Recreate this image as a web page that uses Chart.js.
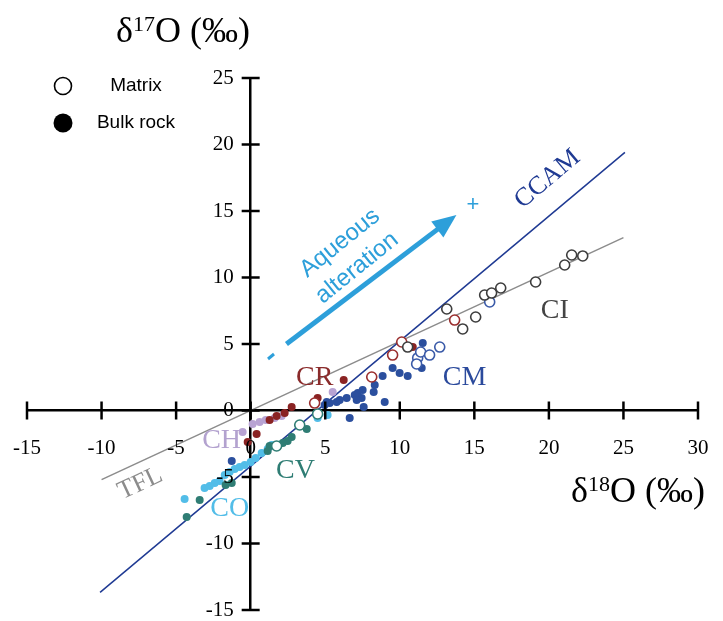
<!DOCTYPE html>
<html lang="en">
<head>
<meta charset="UTF-8">
<title>Oxygen isotopes of carbonaceous chondrites</title>
<script src="https://cdn.jsdelivr.net/npm/chart.js@4"></script>
<style>
  body { margin: 0; background: #fff; }
  #wrap { width: 723px; height: 621px; position: relative; }
</style>
</head>
<body>
<div id="wrap"><canvas id="chart"></canvas></div>
<script>
  // [d18O, d17O] pairs
  const ciMatrix = [[13.15,7.63],[14.22,6.13],[15.09,7.03],[15.69,8.68],[16.16,8.83],[16.77,9.21],[19.11,9.66],[21.06,10.94],[21.53,11.69],[22.27,11.62],[10.53,4.77]];
  const cmMatrix = [[11.2,3.95],[11.4,4.4],[12.0,4.17],[12.68,4.77],[11.13,3.5],[16.03,8.16]];
  const cmBulk = [[11.54,5.08],[11.47,3.2],[9.52,3.2],[9.99,2.82],[10.53,2.59],[8.85,2.59],[8.32,1.92],[8.25,1.39],[8.99,0.64],[7.58,0.26],[7.44,0.94],[7.18,1.32],[6.98,1.17],[7.11,0.79],[7.51,1.54],[6.44,0.94],[5.97,0.79],[5.77,0.64],[5.3,0.56],[5.1,0.64],[6.64,-0.56],[-1.27,-3.8],[4.96,0.41]];
  const crMatrix = [[10.13,5.15],[9.52,4.17],[8.12,2.52],[13.68,6.8],[4.29,0.56]];
  const crBulk = [[6.24,2.29],[4.49,0.94],[2.75,0.26],[2.28,-0.19],[1.74,-0.41],[1.27,-0.71],[0.4,-1.77],[-0.2,-2.37],[10.87,4.77]];
  const chBulk = [[5.5,1.39],[2.08,-0.41],[1.61,-0.56],[1.01,-0.71],[0.6,-0.86],[0.13,-1.02],[-0.54,-1.62]];
  const cvMatrix = [[3.29,-1.09],[1.74,-2.67],[4.49,-0.26]];
  const cvBulk = [[3.76,-1.39],[2.75,-1.99],[2.48,-2.29],[2.15,-2.44],[1.27,-2.67],[1.14,-3.05],[-1.27,-5.45],[-1.68,-5.6],[-3.42,-6.73],[-4.29,-8.0]];
  const coBulk = [[5.16,-0.34],[4.49,-0.56],[1.41,-2.59],[1.14,-2.9],[0.74,-3.2],[0.34,-3.57],[0,-3.87],[-0.4,-4.1],[-0.74,-4.25],[-1.07,-4.4],[-1.41,-4.62],[-1.74,-4.85],[-2.08,-5.3],[-2.41,-5.45],[-2.75,-5.68],[-3.09,-5.83],[-4.43,-6.65]];

  // reference lines
  const ccamLine = [[-10.1,-13.67],[25.1,19.41]];
  const tflLine = [[-10,-5.2],[25,13.0]];

  // group names and where they sit
  const groupNames = ['CCAM','CI','CM','CR','CH','CV','CO','TFL'];
  const groupSpots = [[19.9,17.4],[20.4,7.5],[14.35,2.5],[4.3,2.5],[-1.95,-2.3],[3.0,-4.5],[-1.4,-7.35],[-7.4,-5.5]];
  const groupColors = ['#1f3a93','#444444','#2b4a9c','#8a2b2b','#b3a2cf','#2f7d74','#52bde8','#8c8c8c'];
  const groupAngles = [-40,0,0,0,0,0,0,-25];

  const arrowFrom = [2.4, 5.0];
  const arrowTo = [13.8, 14.7];

  const xTicks = [-15,-10,-5,0,5,10,15,20,25,30];
  const yTicks = [-15,-10,-5,0,5,10,15,20,25];

  const pts = a => a.map(p => ({x: p[0], y: p[1]}));

  function filled(label, data, color) {
    return { label, data: pts(data), backgroundColor: color, borderColor: color,
      pointRadius: 4, pointBorderWidth: 0, order: 1 };
  }
  function open(label, data, color) {
    return { label, data: pts(data), backgroundColor: '#fff', borderColor: color,
      pointRadius: 5, pointBorderWidth: 1.6, order: 0 };
  }
  function line(label, data, color, w) {
    return { label, data: pts(data), type: 'line', showLine: true, borderColor: color,
      borderWidth: w, pointRadius: 0, fill: false, order: 5 };
  }

  function supText(ctx, x, y, base, sup, rest, size) {
    ctx.font = size + 'px "Liberation Serif"';
    const w1 = ctx.measureText(base).width;
    const w3 = ctx.measureText(rest).width;
    ctx.font = Math.round(size * 0.62) + 'px "Liberation Serif"';
    const w2 = ctx.measureText(sup).width;
    let cx = x - (w1 + w2 + w3) / 2;
    ctx.textAlign = 'left';
    ctx.textBaseline = 'alphabetic';
    ctx.font = size + 'px "Liberation Serif"';
    ctx.fillText(base, cx, y);
    cx += w1;
    ctx.font = Math.round(size * 0.62) + 'px "Liberation Serif"';
    ctx.fillText(sup, cx, y - size * 0.3);
    cx += w2;
    ctx.font = size + 'px "Liberation Serif"';
    ctx.fillText(rest, cx, y);
  }

  const overlay = {
    id: 'overlay',
    afterDraw(chart) {
      const {ctx, scales: {x, y}} = chart;
      const x0 = x.getPixelForValue(0), y0 = y.getPixelForValue(0);
      ctx.save();

      // crossing tick marks and tick labels
      ctx.strokeStyle = '#000';
      ctx.fillStyle = '#000';
      ctx.lineWidth = 2.5;
      ctx.font = '21px "Liberation Serif"';
      ctx.textBaseline = 'middle';
      ctx.textAlign = 'center';
      xTicks.forEach(v => {
        const px = x.getPixelForValue(v);
        ctx.beginPath(); ctx.moveTo(px, y0 - 9); ctx.lineTo(px, y0 + 9); ctx.stroke();
        ctx.fillText(String(v), px, y0 + 38);
      });
      ctx.textAlign = 'right';
      yTicks.forEach(v => {
        const py = y.getPixelForValue(v);
        ctx.beginPath(); ctx.moveTo(x0 - 9, py); ctx.lineTo(x0 + 9, py); ctx.stroke();
        ctx.fillText(String(v), x0 - 17, py);
      });

      // group labels
      ctx.textAlign = 'center';
      ctx.textBaseline = 'middle';
      groupNames.forEach((name, i) => {
        ctx.save();
        ctx.translate(x.getPixelForValue(groupSpots[i][0]), y.getPixelForValue(groupSpots[i][1]));
        ctx.rotate(groupAngles[i] * Math.PI / 180);
        ctx.fillStyle = groupColors[i];
        ctx.font = (name === 'CCAM' || name === 'TFL' ? 26 : 28) + 'px "Liberation Serif"';
        ctx.fillText(name, 0, 0);
        ctx.restore();
      });

      // aqueous alteration arrow
      const ax1 = x.getPixelForValue(arrowFrom[0]), ay1 = y.getPixelForValue(arrowFrom[1]);
      const ax2 = x.getPixelForValue(arrowTo[0]), ay2 = y.getPixelForValue(arrowTo[1]);
      const ang = Math.atan2(ay2 - ay1, ax2 - ax1);
      const blue = '#2d9fda';
      ctx.strokeStyle = blue;
      ctx.fillStyle = blue;
      ctx.lineWidth = 5;
      ctx.beginPath();
      ctx.moveTo(ax1, ay1);
      ctx.lineTo(ax2 - 18 * Math.cos(ang), ay2 - 18 * Math.sin(ang));
      ctx.stroke();
      ctx.save();
      ctx.translate(ax2, ay2);
      ctx.rotate(ang);
      ctx.beginPath();
      ctx.moveTo(0, 0); ctx.lineTo(-24, -10); ctx.lineTo(-24, 10); ctx.closePath();
      ctx.fill();
      ctx.restore();

      ctx.font = '24px "Liberation Sans"';
      ctx.textAlign = 'center';
      ctx.textBaseline = 'middle';
      [['Aqueous', 340, 243], ['alteration', 357, 268]].forEach(t => {
        ctx.save();
        ctx.translate(t[1], t[2]);
        ctx.rotate(-39 * Math.PI / 180);
        ctx.fillText(t[0], 0, 0);
        ctx.restore();
      });
      // minus and plus ends
      ctx.lineWidth = 3;
      ctx.beginPath();
      ctx.moveTo(268, 359); ctx.lineTo(274, 354);
      ctx.stroke();
      ctx.font = '22px "Liberation Sans"';
      ctx.fillText('+', 473, 205);

      // axis titles
      ctx.fillStyle = '#000';
      supText(ctx, 183, 42, '\u03b4', '17', 'O (\u2030)', 36);
      supText(ctx, 638, 502, '\u03b4', '18', 'O (\u2030)', 36);

      // legend
      ctx.lineWidth = 1.6;
      ctx.strokeStyle = '#000';
      ctx.fillStyle = '#fff';
      ctx.beginPath(); ctx.arc(63, 86, 8.5, 0, Math.PI * 2); ctx.fill(); ctx.stroke();
      ctx.fillStyle = '#000';
      ctx.beginPath(); ctx.arc(63, 123, 9.5, 0, Math.PI * 2); ctx.fill();
      ctx.font = '19px "Liberation Sans"';
      ctx.textAlign = 'center';
      ctx.textBaseline = 'middle';
      ctx.fillText('Matrix', 136, 86);
      ctx.fillText('Bulk rock', 136, 123);
      ctx.restore();
    }
  };

  new Chart(document.getElementById('chart'), {
    type: 'scatter',
    data: {
      datasets: [
        open('CI matrix', ciMatrix, '#3d3d3d'),
        open('CM matrix', cmMatrix, '#3a5aa8'),
        open('CR matrix', crMatrix, '#9a2e2e'),
        open('CV matrix', cvMatrix, '#2f7d74'),
        filled('CM bulk', cmBulk, '#2b4f9e'),
        filled('CR bulk', crBulk, '#8a2323'),
        filled('CH bulk', chBulk, '#b8a3d3'),
        filled('CV bulk', cvBulk, '#2f7d74'),
        filled('CO bulk', coBulk, '#52bde8'),
        line('CCAM', ccamLine, '#1f3a93', 1.5),
        line('TFL', tflLine, '#8c8c8c', 1.5)
      ]
    },
    options: {
      responsive: true,
      maintainAspectRatio: false,
      animation: false,
      layout: { padding: { left: 27, right: 25, top: 78, bottom: 11 } },
      plugins: { legend: { display: false }, tooltip: { enabled: false } },
      scales: {
        x: {
          type: 'linear',
          min: -15, max: 30,
          position: { y: 0 },
          grid: { drawOnChartArea: false, drawTicks: false },
          border: { display: true, color: '#000', width: 2.5 },
          ticks: { stepSize: 5, display: false }
        },
        y: {
          type: 'linear',
          min: -15, max: 25,
          position: { x: 0 },
          grid: { drawOnChartArea: false, drawTicks: false },
          border: { display: true, color: '#000', width: 2.5 },
          ticks: { stepSize: 5, display: false }
        }
      }
    },
    plugins: [overlay]
  });
</script>
</body>
</html>
